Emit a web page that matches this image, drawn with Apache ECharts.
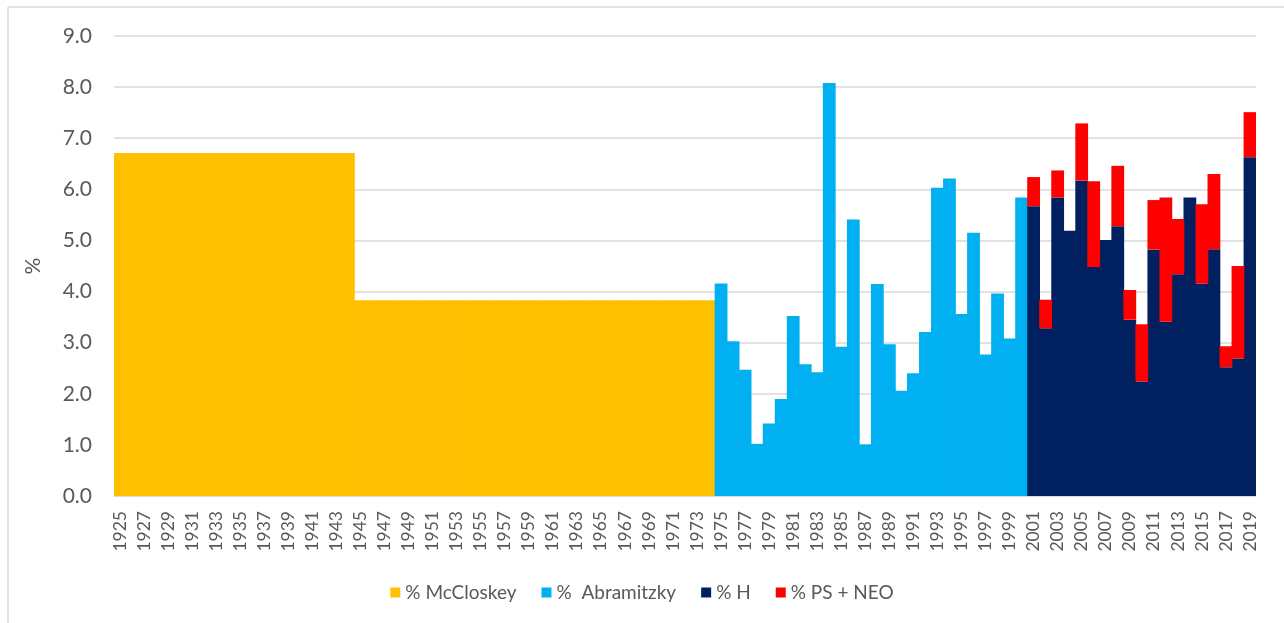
<!DOCTYPE html>
<html>
<head>
<meta charset="utf-8">
<title>Share of economics publications, 1925–2019</title>
<script src="https://cdn.jsdelivr.net/npm/echarts@6/dist/echarts.min.js"></script>
<style>
  html, body { margin: 0; padding: 0; background: #fff; }
  #chart { width: 1284px; height: 623px; }
</style>
</head>
<body>
<div id="chart"></div>
<script>
// Years on the category axis
const firstYear = 1925;
const lastYear = 2019;
const years = [];
for (let y = firstYear; y <= lastYear; y++) years.push(String(y));

// % McCloskey, 1925–1974
const mccloskeyStart = 1925;
const mccloskey = [
  6.71, 6.71, 6.71, 6.71, 6.71, 6.71, 6.71, 6.71, 6.71, 6.71,
  6.71, 6.71, 6.71, 6.71, 6.71, 6.71, 6.71, 6.71, 6.71, 6.71,
  3.83, 3.83, 3.83, 3.83, 3.83, 3.83, 3.83, 3.83, 3.83, 3.83,
  3.83, 3.83, 3.83, 3.83, 3.83, 3.83, 3.83, 3.83, 3.83, 3.83,
  3.83, 3.83, 3.83, 3.83, 3.83, 3.83, 3.83, 3.83, 3.83, 3.83
];

// % Abramitzky, 1975–2000
const abramitzkyStart = 1975;
const abramitzky = [
  4.16, 3.03, 2.47, 1.02, 1.42, 1.90, 3.52, 2.58, 2.42, 8.08,
  2.92, 5.41, 1.01, 4.15, 2.97, 2.06, 2.40, 3.21, 6.03, 6.21,
  3.56, 5.15, 2.77, 3.96, 3.08, 5.84
];

// % H, 2001–2019
const hStart = 2001;
const hShare = [
  5.67, 3.28, 5.84, 5.19, 6.17, 4.48, 5.01, 5.28, 3.45, 2.24,
  4.82, 3.41, 4.34, 5.84, 4.16, 4.83, 2.52, 2.69, 6.63
];

// % PS + NEO, 2001–2019 (stacked on top of % H; null = none that year)
const psNeo = [
  0.57, 0.56, 0.53, null, 1.12, 1.68, null, 1.18, 0.58, 1.12,
  0.97, 2.43, 1.08, null, 1.55, 1.47, 0.41, 1.81, 0.88
];

// y-axis ticks
const yMin = 0, yMax = 9, yStep = 1;

// Place a year-span series onto the full category axis
function onAxis(values, startYear) {
  const out = years.map(() => null);
  values.forEach((v, i) => { out[startYear - firstYear + i] = v; });
  return out;
}

const textColor = '#595959';
const gridColor = '#d9d9d9';
const font = 'Lato, "Noto Sans", sans-serif';

function barSeries(name, data, color) {
  return {
    name: name,
    type: 'bar',
    stack: 'total',
    data: data,
    // slightly wider than one band so neighbouring bars overlap with no seam
    barWidth: 12.8,
    itemStyle: { color: color, borderWidth: 0 },
    emphasis: { disabled: true }
  };
}

const chart = echarts.init(document.getElementById('chart'), null, { renderer: 'canvas' });
chart.setOption({
  animation: false,
  backgroundColor: '#ffffff',
  textStyle: { fontFamily: font },
  grid: { left: 114, right: 28, top: 36, bottom: 127, containLabel: false },
  graphic: [
    { type: 'line', shape: { x1: 8, y1: 7, x2: 1284, y2: 7 }, style: { stroke: gridColor, lineWidth: 1.5 } },
    { type: 'line', shape: { x1: 8, y1: 7, x2: 8, y2: 623 }, style: { stroke: gridColor, lineWidth: 1.5 } }
  ],
  legend: {
    top: 578,
    left: 'center',
    itemWidth: 10,
    itemHeight: 10,
    itemGap: 25,
    icon: 'rect',
    textStyle: { color: textColor, fontSize: 19, fontFamily: font },
    data: ['% McCloskey', '%  Abramitzky', '% H', '% PS + NEO']
  },
  xAxis: {
    type: 'category',
    data: years,
    boundaryGap: true,
    axisLine: { show: true, lineStyle: { color: gridColor, width: 1.5 } },
    axisTick: { show: false },
    axisLabel: {
      interval: 1,
      rotate: 90,
      margin: 15,
      color: textColor,
      fontSize: 17.5,
      fontFamily: font
    },
    splitLine: { show: false }
  },
  yAxis: {
    type: 'value',
    min: yMin,
    max: yMax,
    interval: yStep,
    name: '%',
    nameLocation: 'middle',
    nameRotate: 90,
    nameGap: 70,
    nameTextStyle: { color: textColor, fontSize: 21, fontFamily: font },
    axisLine: { show: false },
    axisTick: { show: false },
    axisLabel: {
      margin: 22,
      color: textColor,
      fontSize: 21,
      fontFamily: font,
      formatter: v => v.toFixed(1)
    },
    splitLine: { show: true, lineStyle: { color: gridColor, width: 1.5 } }
  },
  series: [
    barSeries('% McCloskey', onAxis(mccloskey, mccloskeyStart), '#FFC000'),
    barSeries('%  Abramitzky', onAxis(abramitzky, abramitzkyStart), '#00B0F0'),
    barSeries('% H', onAxis(hShare, hStart), '#002060'),
    barSeries('% PS + NEO', onAxis(psNeo, hStart), '#FF0000')
  ]
});
</script>
</body>
</html>
